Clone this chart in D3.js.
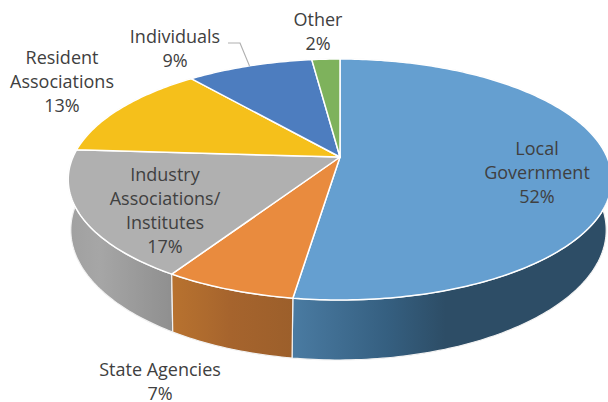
<!DOCTYPE html>
<html>
<head>
<meta charset="utf-8">
<script src="https://cdn.jsdelivr.net/npm/d3@7"></script>
<style>
  html, body { margin: 0; padding: 0; background: #fff; }
  text { font-family: "Open Sans", sans-serif; font-size: 18px; fill: #404040; text-anchor: middle; }
</style>
</head>
<body>
<svg id="chart" width="608" height="402"></svg>
<script>
// data, the labels in the picture are these values rounded
const categories = ['Local Government', 'State Agencies', 'Industry Associations/ Institutes', 'Resident Associations', 'Individuals', 'Other']
const shares = [52.3, 6.6, 17.1, 13, 9, 2]
const labelLines = [['Local', 'Government'], ['State Agencies'], ['Industry', 'Associations/', 'Institutes'], ['Resident', 'Associations'], ['Individuals'], ['Other']]
const topColors = ['#659fd0', '#e98b3e', '#b0b0b0', '#f5c01b', '#4d7dbf', '#7eb25c']
const wallColors = [
  ['#4a7ba2', '#355f80', '#2d4d66', '#2d4d66'],
  ['#b8722f', '#ad6a2e', '#a6642d', '#9c5f2b'],
  ['#a0a0a0', '#a6a6a6', '#a0a0a0', '#8f8f8f'],
  ['#b08a14', '#b08a14', '#b08a14', '#b08a14'],
  ['#38598a', '#38598a', '#38598a', '#38598a'],
  ['#5b8042', '#5b8042', '#5b8042', '#5b8042']
]
const wallStops = [0, 0.3, 0.48, 1]
// centre of the first text line, in px
const labelX = [537, 160, 165, 62, 175, 318]
const labelY = [149, 370, 175, 58, 37, 20]
const lineHeight = 24

// layout of the tilted disc
const persp = 0.1867
const xUnit = d3.scaleLinear().domain([-1, 1]).range([340 - 267, 340 + 267])
const yUnit = d3.scaleLinear().domain([-1, 1]).range([157 - 116.3, 157 + 116.3])
const wallDrop = 48.7
const wallShift = -1.5
const wallScaleX = 0.985
const wallScaleY = 1.079

// angle + radius => screen position, perspective makes the front bigger
const project = (a, r = 1, bottom = false) => {
  const u = r * Math.sin(a)
  const v = -r * Math.cos(a)
  const k = 1 / (1 - persp * v)
  return bottom
    ? [xUnit(u * k * wallScaleX) + wallShift, yUnit(v * k * wallScaleY) + wallDrop]
    : [xUnit(u * k), yUnit(v * k)]
}

const svg = d3.select('#chart')
const defs = svg.append('defs')
const line = d3.line()
const pie = d3.pie().sort(null).startAngle(0).endAngle(2 * Math.PI)
const slices = pie(shares)

const edgePoints = (d, bottom) => {
  const n = Math.max(2, Math.ceil((d.endAngle - d.startAngle) * 60))
  return d3.range(n + 1).map(i => project(d.startAngle + (d.endAngle - d.startAngle) * i / n, 1, bottom))
}

// walls, back ones first
const wallOrder = d3.range(slices.length).sort((a, b) => {
  const depth = d => -Math.cos((d.startAngle + d.endAngle) / 2)
  return depth(slices[a]) - depth(slices[b])
})

wallOrder.forEach(i => {
  const d = slices[i]
  const top = edgePoints(d, false)
  const low = edgePoints(d, true)
  const xs = top.concat(low).map(p => p[0])
  const grad = defs.append('linearGradient')
    .attr('id', 'wall' + i)
    .attr('gradientUnits', 'userSpaceOnUse')
    .attr('x1', d3.min(xs)).attr('x2', d3.max(xs))
    .attr('y1', 0).attr('y2', 0)
  wallColors[i].forEach((c, j) => {
    grad.append('stop').attr('offset', wallStops[j]).attr('stop-color', c)
  })
  svg.append('path')
    .attr('d', line(top.concat(low.slice().reverse())) + 'Z')
    .attr('fill', `url(#wall${i})`)
    .attr('stroke', '#f2f2f2')
    .attr('stroke-width', 1.2)
    .attr('stroke-linejoin', 'round')
})

// top faces
slices.forEach((d, i) => {
  svg.append('path')
    .attr('d', line([project(0, 0)].concat(edgePoints(d, false))) + 'Z')
    .attr('fill', topColors[i])
    .attr('stroke', '#fff')
    .attr('stroke-width', 1.5)
    .attr('stroke-linejoin', 'round')
})

// leader line for Individuals, ends on the middle of its rim
const indiv = slices[categories.indexOf('Individuals')]
const rimPoint = project((indiv.startAngle + indiv.endAngle) / 2)
svg.append('path')
  .attr('d', line([[228, 43], [240, 43], rimPoint]))
  .attr('fill', 'none')
  .attr('stroke', '#b0b0b0')
  .attr('stroke-width', 1.2)

// labels
categories.forEach((c, i) => {
  const lines = labelLines[i].concat(Math.round(shares[i]) + '%')
  const t = svg.append('text')
  lines.forEach((s, j) => {
    t.append('tspan')
      .attr('x', labelX[i])
      .attr('y', labelY[i] + j * lineHeight)
      .attr('dy', '0.35em')
      .text(s)
  })
})
</script>
</body>
</html>
